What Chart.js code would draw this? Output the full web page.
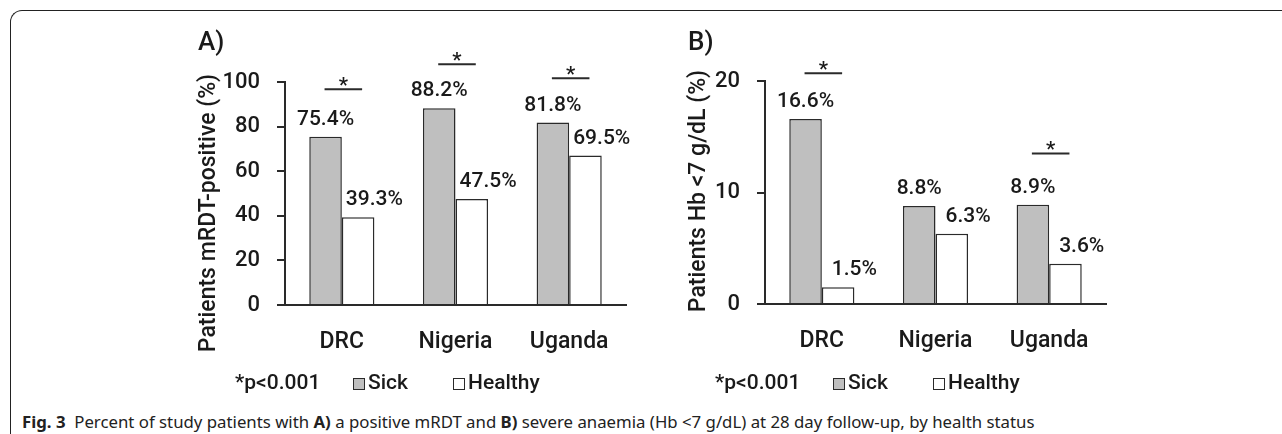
<!DOCTYPE html>
<html lang="en">
<head>
    <meta charset="UTF-8">
    <title>Fig. 3 mRDT and severe anaemia</title>
    <script src="https://cdn.jsdelivr.net/npm/chart.js"></script>
    <style>
        body { margin: 0; background: #fff; width: 1282px; height: 434px; overflow: hidden; position: relative; }
        #frame {
            position: absolute; left: 10px; top: 10px; width: 1400px; height: 600px;
            border-top: 1.5px solid #222; border-left: 1.5px solid #222; border-top-left-radius: 12px;
        }
        .panel { position: absolute; top: 0; }
        #caption {
            position: absolute; left: 22px; top: 414px; line-height: 16px;
            font-family: "Noto Sans", sans-serif; font-size: 16.8px; color: #222; white-space: nowrap;
        }
        #caption b { font-weight: 700; }
    </style>
</head>
<body>

<div id="frame"></div>

<!-- two panels, A and B -->
<canvas id="chartA" class="panel" width="460" height="400" style="left:180px"></canvas>
<canvas id="chartB" class="panel" width="460" height="400" style="left:660px"></canvas>

<div id="caption"><b>Fig. 3</b>&nbsp; Percent of study patients with <b>A)</b> a positive mRDT and <b>B)</b> severe anaemia (Hb &lt;7 g/dL) at 28 day follow-up, by health status</div>

<script>
    // data
    const countries = ['DRC', 'Nigeria', 'Uganda'];
    const seriesNames = ['Sick', 'Healthy'];

    // A) patients mRDT-positive (%)
    const sickA = [75.4, 88.2, 81.8];
    const healthyA = [39.3, 47.5, 67.0];
    const sickLabelsA = ['75.4%', '88.2%', '81.8%'];
    const healthyLabelsA = ['39.3%', '47.5%', '69.5%'];
    const sigLevelA = [96.7, 108, 101.7];   // height of the * bracket, in % units
    const ticksA = [0, 20, 40, 60, 80, 100];

    // B) patients Hb <7 g/dL (%)
    const sickB = [16.6, 8.8, 8.9];
    const healthyB = [1.5, 6.3, 3.6];
    const sickLabelsB = ['16.6%', '8.8%', '8.9%'];
    const healthyLabelsB = ['1.5%', '6.3%', '3.6%'];
    const sigLevelB = [20.7, null, 13.5];
    const ticksB = [0, 10, 20];

    const pNote = '*p<0.001';

    const INK = '#1a1a1a';
    const LINE = '#2a2a2a';
    const GREY = '#bfbfbf';
    const FONT = 'Roboto, "DejaVu Sans", sans-serif';

    // extra drawing: value labels, * brackets, axis title, panel letter, legend
    const decorPlugin = {
        id: 'decor',
        afterDraw(chart, args, opts) {
            const ctx = chart.ctx;
            const y = chart.scales.y;
            const sickMeta = chart.getDatasetMeta(0);
            const healthyMeta = chart.getDatasetMeta(1);
            ctx.save();
            ctx.fillStyle = INK;

            // value labels
            ctx.font = '500 21px ' + FONT;
            ctx.textAlign = 'center';
            ctx.textBaseline = 'alphabetic';
            sickMeta.data.forEach((bar, i) => {
                ctx.fillText(opts.sickLabels[i], bar.x, bar.y - 12);
            });
            healthyMeta.data.forEach((bar, i) => {
                ctx.fillText(opts.healthyLabels[i], bar.x + bar.width / 2, bar.y - 12);
            });

            // significance brackets
            ctx.strokeStyle = LINE;
            ctx.lineWidth = 2;
            opts.sig.forEach((level, i) => {
                if (level === null) return;
                const ly = y.getPixelForValue(level);
                const x0 = sickMeta.data[i].x - 1;
                const x1 = healthyMeta.data[i].x + 4;
                ctx.beginPath();
                ctx.moveTo(x0, ly);
                ctx.lineTo(x1, ly);
                ctx.stroke();
                ctx.fillText('*', (x0 + x1) / 2, ly + 3);
            });

            // y axis title
            ctx.save();
            ctx.translate(opts.titleX, opts.titleY);
            ctx.rotate(-Math.PI / 2);
            ctx.font = '500 23px ' + FONT;
            ctx.textBaseline = 'middle';
            ctx.fillText(opts.title, 0, 0);
            ctx.restore();

            // panel letter
            ctx.font = '500 26px ' + FONT;
            ctx.textAlign = 'left';
            ctx.fillText(opts.letter, opts.letterX, 50);

            // legend
            ctx.font = '500 21px ' + FONT;
            ctx.textBaseline = 'middle';
            ctx.fillText(pNote, 55, 384);
            const boxes = [173, 273];
            chart.data.datasets.forEach((ds, i) => {
                ctx.fillStyle = ds.backgroundColor;
                ctx.fillRect(boxes[i], 378, 12, 12);
                ctx.strokeStyle = LINE;
                ctx.lineWidth = 1;
                ctx.strokeRect(boxes[i] + 0.5, 378.5, 11, 11);
                ctx.fillStyle = INK;
                ctx.fillText(ds.label, boxes[i] + 15, 384);
            });
            ctx.restore();
        }
    };

    function makePanel(canvasId, sick, healthy, yMax, yStep, ticks, top, decor) {
        return new Chart(document.getElementById(canvasId), {
            type: 'bar',
            data: {
                labels: countries,
                datasets: [
                    { label: seriesNames[0], data: sick, backgroundColor: GREY, borderColor: LINE, borderWidth: 1.5 },
                    { label: seriesNames[1], data: healthy, backgroundColor: '#ffffff', borderColor: LINE, borderWidth: 1.5 }
                ]
            },
            options: {
                responsive: false,
                animation: false,
                devicePixelRatio: 1,
                categoryPercentage: 0.573,
                barPercentage: 1,
                layout: { padding: { top: top, right: 14, left: 0, bottom: 0 } },
                plugins: {
                    legend: { display: false },
                    tooltip: { enabled: false },
                    decor: decor
                },
                scales: {
                    x: {
                        grid: { display: false },
                        border: { display: true, color: LINE, width: 2 },
                        ticks: { color: INK, font: { family: FONT, size: 23, weight: 500 }, padding: 15 },
                        afterFit: s => { s.height = 400 - (top + 223); }
                    },
                    y: {
                        min: 0,
                        max: yMax,
                        afterBuildTicks: s => { s.ticks = ticks.map(v => ({ value: v })); },
                        grid: { drawOnChartArea: false, drawTicks: true, tickLength: 8, color: LINE, lineWidth: 2 },
                        border: { display: true, color: LINE, width: 2 },
                        ticks: { color: INK, font: { family: FONT, size: 22, weight: 500 }, padding: 17, stepSize: yStep },
                        afterFit: s => { s.width = 105; }
                    }
                }
            },
            plugins: [decorPlugin]
        });
    }

    makePanel('chartA', sickA, healthyA, 100, 20, ticksA, 82, {
        letter: 'A)', letterX: 18,
        title: 'Patients mRDT-positive (%)', titleX: 29, titleY: 213,
        sickLabels: sickLabelsA, healthyLabels: healthyLabelsA, sig: sigLevelA
    });

    makePanel('chartB', sickB, healthyB, 20, 10, ticksB, 81, {
        letter: 'B)', letterX: 28,
        title: 'Patients Hb <7 g/dL (%)', titleX: 39, titleY: 191,
        sickLabels: sickLabelsB, healthyLabels: healthyLabelsB, sig: sigLevelB
    });
</script>

</body>
</html>
